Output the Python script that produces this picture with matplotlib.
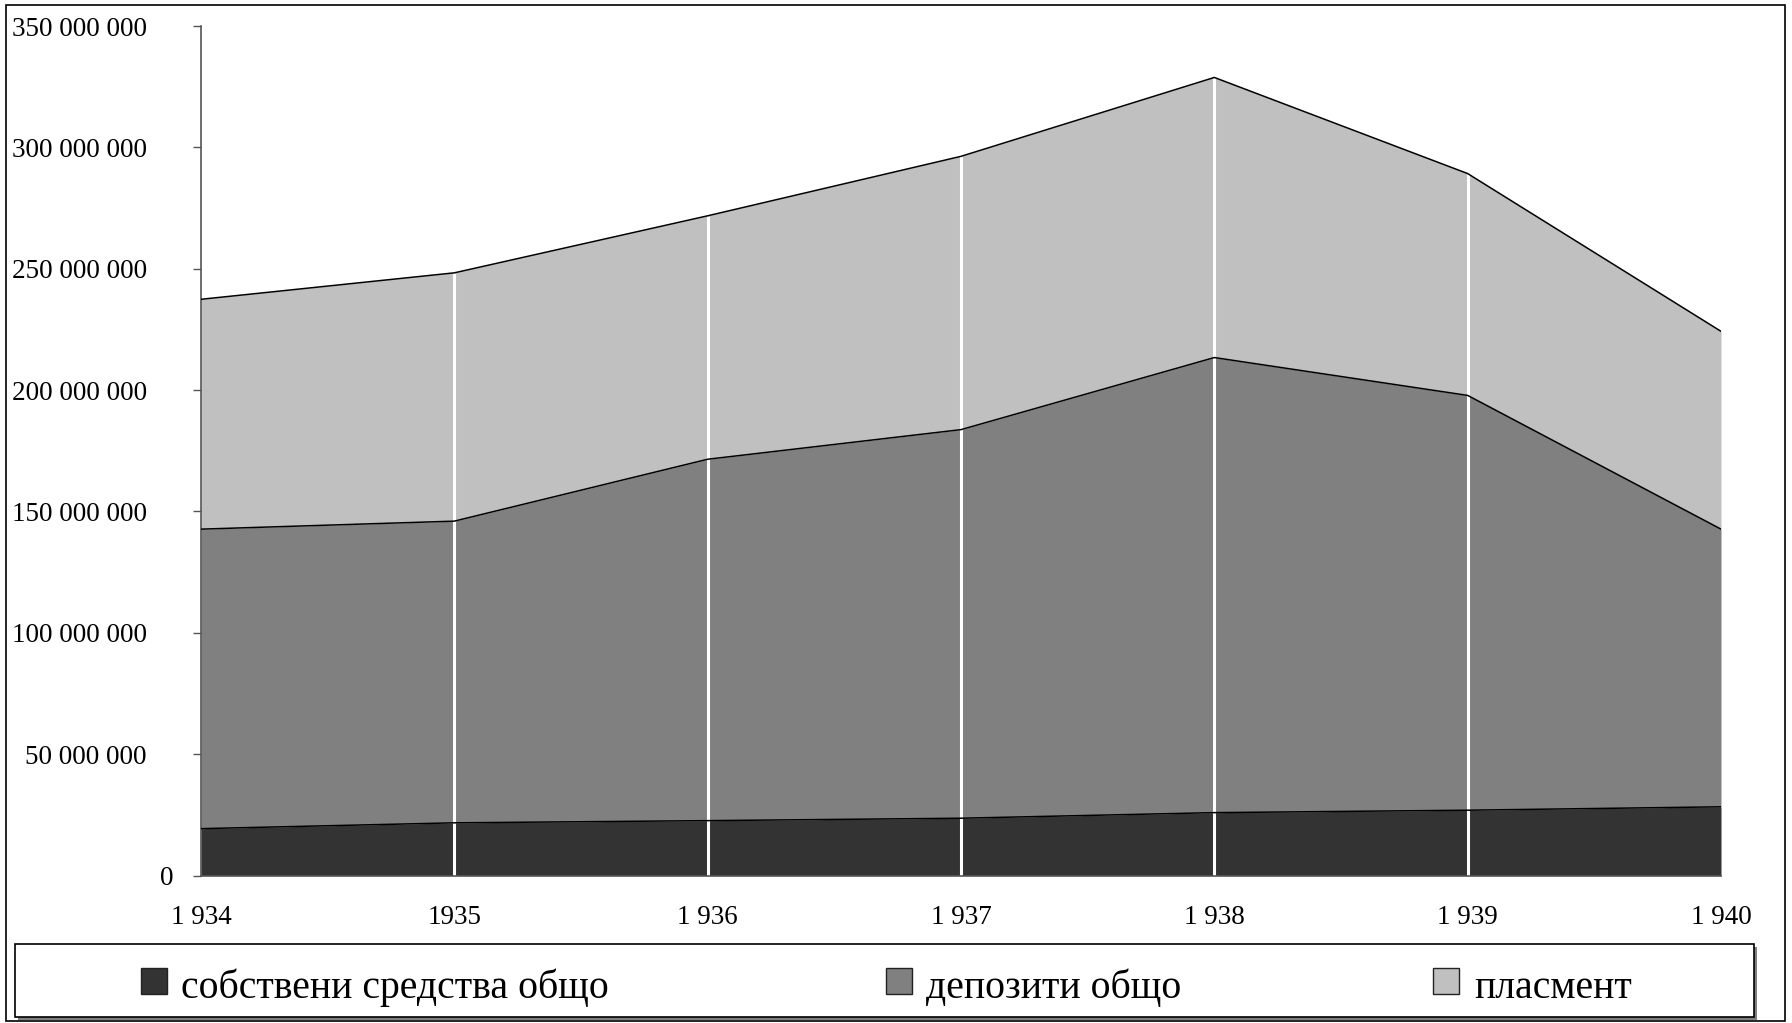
import matplotlib
matplotlib.use("Agg")
import matplotlib.pyplot as plt
from matplotlib.patches import Rectangle
from matplotlib.transforms import ScaledTranslation
import numpy as np

years = ["1 934", "1935", "1 936", "1 937", "1 938", "1 939", "1 940"]
own_funds = [19.3e6, 21.7e6, 22.6e6, 23.6e6, 25.9e6, 26.9e6, 28.3e6]
deposits = [123.4e6, 124.3e6, 148.9e6, 160.1e6, 187.5e6, 170.9e6, 114.4e6]
placement = [94.7e6, 102.3e6, 100.3e6, 112.6e6, 115.4e6, 91.4e6, 81.5e6]
series_labels = ["собствени средства общо", "депозити общо", "пласмент"]
colors = ["#333333", "#808080", "#C0C0C0"]
yticks = [0, 50e6, 100e6, 150e6, 200e6, 250e6, 300e6, 350e6]

plt.rcParams['font.family'] = ['Liberation Serif', 'DejaVu Serif']

W, H = 1792, 1023
fig = plt.figure(figsize=(W / 100, H / 100), dpi=100)
ax = fig.add_axes([201 / W, 1 - 875.5 / H, (1721 - 201) / W, (875.5 - 26) / H])

x = np.arange(len(years))
stack = np.vstack([own_funds, deposits, placement])
cum = np.cumsum(stack, axis=0)
base = np.zeros(len(years))
for i in range(3):
    ax.fill_between(x, base, cum[i], color=colors[i], linewidth=0, zorder=1)
    ax.plot(x, cum[i], color="black", linewidth=1.1, zorder=3)
    base = cum[i]

# white separators at category positions
ax.vlines(x[1:-1], 0, cum[-1][1:-1], colors="white", linewidth=2.2, zorder=2)

ax.set_xlim(0, len(years) - 1)
ax.set_ylim(0, 350e6)
ax.set_xticks(x)
ax.set_xticklabels(years, fontsize=19.5)
ax.set_yticks(yticks)
ax.set_yticklabels([f"{int(v):,}".replace(",", " ") for v in yticks], fontsize=19.5)
ax.tick_params(axis="x", length=0, pad=21)
ax.tick_params(axis="y", length=6, width=1, color="#555555", pad=33, direction="out")
# the "0" label sits closer to the axis in the original
zero_lbl = ax.get_yticklabels()[0]
zero_lbl.set_transform(zero_lbl.get_transform() + ScaledTranslation(27 / 100, 0, fig.dpi_scale_trans))
for s in ["top", "right"]:
    ax.spines[s].set_visible(False)
ax.spines["left"].set_color("#555555")
ax.spines["bottom"].set_color("#555555")
ax.spines["left"].set_linewidth(1.2)
ax.spines["bottom"].set_linewidth(1.2)
ax.set_facecolor("white")

# outer frame
fig.patches.append(Rectangle((6 / W, 1 - 1021 / H), (1785 - 6) / W, (1021 - 5) / H,
                             transform=fig.transFigure, fill=False,
                             edgecolor="black", linewidth=1.2))

# legend box with shadow
lx0, lx1, ly0, ly1 = 15, 1754, 944, 1017
fig.patches.append(Rectangle(((lx0 + 3) / W, 1 - (ly1 + 3) / H), (lx1 - lx0) / W, (ly1 - ly0) / H,
                             transform=fig.transFigure, facecolor="#808080",
                             edgecolor="none", zorder=1))
fig.patches.append(Rectangle((lx0 / W, 1 - ly1 / H), (lx1 - lx0) / W, (ly1 - ly0) / H,
                             transform=fig.transFigure, facecolor="white",
                             edgecolor="black", linewidth=1.2, zorder=2))
marker_x = [141, 886, 1433]
text_x = [181, 926, 1474]
my = 981
for i in range(3):
    fig.patches.append(Rectangle((marker_x[i] / W, 1 - (my + 13) / H), 26 / W, 26 / H,
                                 transform=fig.transFigure, facecolor=colors[i],
                                 edgecolor="#222222", linewidth=1, zorder=3))
    fig.text(text_x[i] / W, 1 - (my + 7) / H, series_labels[i], fontsize=28.6,
             va="center", ha="left", zorder=4)

fig.savefig("out.png", dpi=100, facecolor="white")
